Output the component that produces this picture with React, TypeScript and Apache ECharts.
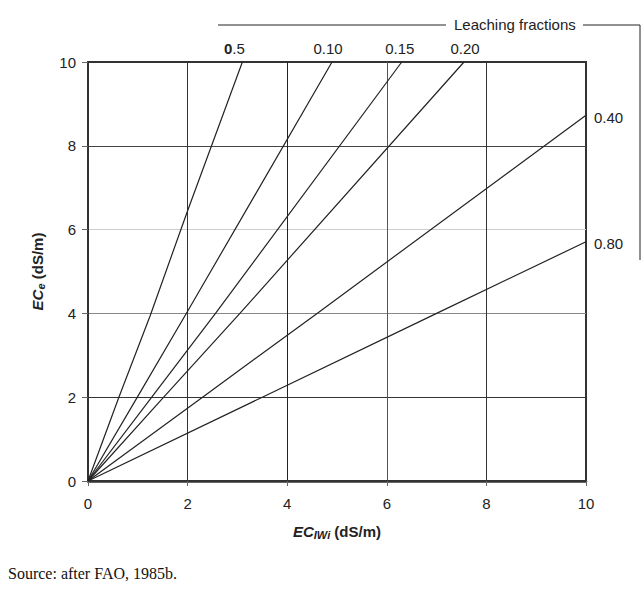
import React, { useEffect, useRef } from "react";
import * as echarts from "echarts";

const xTicks = [0, 2, 4, 6, 8, 10];
const yTicks = [0, 2, 4, 6, 8, 10];
const lf005: number[][] = [[0, 0], [0.62, 2], [1.25, 3.95], [2, 6.45], [3.1, 10]];
const lf010: number[][] = [[0, 0], [1, 2.02], [2, 4.05], [4.9, 10]];
const lf015: number[][] = [[0, 0], [1.28, 2], [2.56, 4], [6.3, 10]];
const lf020: number[][] = [[0, 0], [1.52, 2], [3.05, 4], [7.55, 10]];
const lf040: number[][] = [[0, 0], [2.3, 2], [4.6, 4], [10, 8.73]];
const lf080: number[][] = [[0, 0], [3.5, 2], [7, 4], [10, 5.71]];
const seriesNames = ["0.5", "0.10", "0.15", "0.20", "0.40", "0.80"];

export default function App() {
  const ref = useRef<HTMLDivElement>(null);
  useEffect(() => {
    if (!ref.current) return;
    const chart = echarts.init(ref.current, null, { renderer: "svg" });
    const font = "Liberation Sans";
    const lineColor = "#222";
    const topLabel = (text: string, dx: number, rich?: boolean) => ({
      show: true,
      position: "top",
      distance: 6,
      offset: [dx, 0],
      formatter: rich ? "{b|0}{n|.5}" : text,
      color: "#222",
      fontSize: 15,
      fontFamily: font,
      rich: {
        b: { fontWeight: "bold", fontSize: 15, fontFamily: font, color: "#222" },
        n: { fontSize: 15, fontFamily: font, color: "#222" },
      },
    });
    const rightLabel = (text: string) => ({
      show: true,
      position: "right",
      distance: 8,
      offset: [0, 2],
      formatter: text,
      color: "#222",
      fontSize: 15,
      fontFamily: font,
    });
    const mk = (name: string, data: number[][], label: any) => ({
      type: "line",
      name,
      clip: false,
      data: data.map((d, i) =>
        i === data.length - 1 ? { value: d, label } : { value: d }
      ),
      symbol: "circle",
      symbolSize: 0.01,
      showSymbol: true,
      itemStyle: { color: lineColor },
      lineStyle: { color: lineColor, width: 1.2 },
      label: { show: false },
      emphasis: { disabled: true },
      z: 3,
    });
    chart.setOption({
      animation: false,
      grid: {
        left: 88,
        right: 58,
        top: 62,
        bottom: 112,
        show: true,
        borderColor: "#333",
        borderWidth: 2,
      },
      xAxis: {
        type: "value",
        min: 0,
        max: 10,
        interval: 2,
        name: "{a|EC}{b|IWi}{c| (dS/m)}",
        nameLocation: "middle",
        nameGap: 42,
        nameTextStyle: {
          rich: {
            a: { fontSize: 15, fontWeight: "bold", fontStyle: "italic", fontFamily: font, color: "#222" },
            b: { fontSize: 11, fontWeight: "bold", fontStyle: "italic", fontFamily: font, color: "#222", verticalAlign: "bottom", padding: [6, 0, 0, 0] },
            c: { fontSize: 15, fontWeight: "bold", fontFamily: font, color: "#222" },
          },
        },
        axisLine: { show: true, lineStyle: { color: "#333", width: 2.5 } },
        axisTick: { show: true, length: 5, lineStyle: { color: "#666" } },
        axisLabel: {
          margin: 15,
          fontSize: 15,
          fontFamily: font,
          color: "#222",
          formatter: (v: number) => (xTicks.includes(v) ? String(v) : ""),
        },
        splitLine: {
          show: true,
          lineStyle: { color: ["#333", "#333", "#222", "#555", "#333", "#333"], width: 1 },
        },
      },
      yAxis: {
        type: "value",
        min: 0,
        max: 10,
        interval: 2,
        name: "{a|EC}{b|e}{c| (dS/m)}",
        nameLocation: "middle",
        nameGap: 42,
        nameRotate: 90,
        nameTextStyle: {
          rich: {
            a: { fontSize: 15, fontWeight: "bold", fontStyle: "italic", fontFamily: font, color: "#222" },
            b: { fontSize: 11, fontWeight: "bold", fontStyle: "italic", fontFamily: font, color: "#222", verticalAlign: "bottom", padding: [6, 0, 0, 0] },
            c: { fontSize: 15, fontWeight: "bold", fontFamily: font, color: "#222" },
          },
        },
        axisLine: { show: true, lineStyle: { color: "#333", width: 1.5 } },
        axisTick: { show: true, length: 6, lineStyle: { color: "#666" } },
        axisLabel: {
          margin: 12,
          fontSize: 15,
          fontFamily: font,
          color: "#222",
          formatter: (v: number) => (yTicks.includes(v) ? String(v) : ""),
        },
        splitLine: {
          show: true,
          lineStyle: { color: ["#333", "#333", "#888", "#ccc", "#444", "#333"], width: 1 },
        },
      },
      series: [
        mk(seriesNames[0], lf005, topLabel(seriesNames[0], -8, true)),
        mk(seriesNames[1], lf010, topLabel(seriesNames[1], -4)),
        mk(seriesNames[2], lf015, topLabel(seriesNames[2], -2)),
        mk(seriesNames[3], lf020, topLabel(seriesNames[3], 1)),
        mk(seriesNames[4], lf040, rightLabel(seriesNames[4])),
        mk(seriesNames[5], lf080, rightLabel(seriesNames[5])),
      ],
      graphic: [
        { type: "line", shape: { x1: 218, y1: 25, x2: 446, y2: 25 }, style: { stroke: "#222", lineWidth: 1 } },
        {
          type: "text",
          x: 454,
          y: 24,
          style: { text: "Leaching fractions", fontSize: 15, fontFamily: font, fill: "#222", verticalAlign: "middle" },
        },
        { type: "line", shape: { x1: 583, y1: 25, x2: 640, y2: 25 }, style: { stroke: "#222", lineWidth: 1 } },
        { type: "line", shape: { x1: 640, y1: 25, x2: 640, y2: 260 }, style: { stroke: "#222", lineWidth: 1 } },
        {
          type: "text",
          x: 8,
          y: 573,
          style: { text: "Source: after FAO, 1985b.", fontSize: 16, fontFamily: "Liberation Serif", fill: "#111", verticalAlign: "middle" },
        },
      ],
    });
    return () => chart.dispose();
  }, []);
  return (
    <div style={{ position: "absolute", left: 0, top: 0, width: 644, height: 593, background: "#fff" }}>
      <div ref={ref} style={{ width: 644, height: 593 }} />
    </div>
  );
}
